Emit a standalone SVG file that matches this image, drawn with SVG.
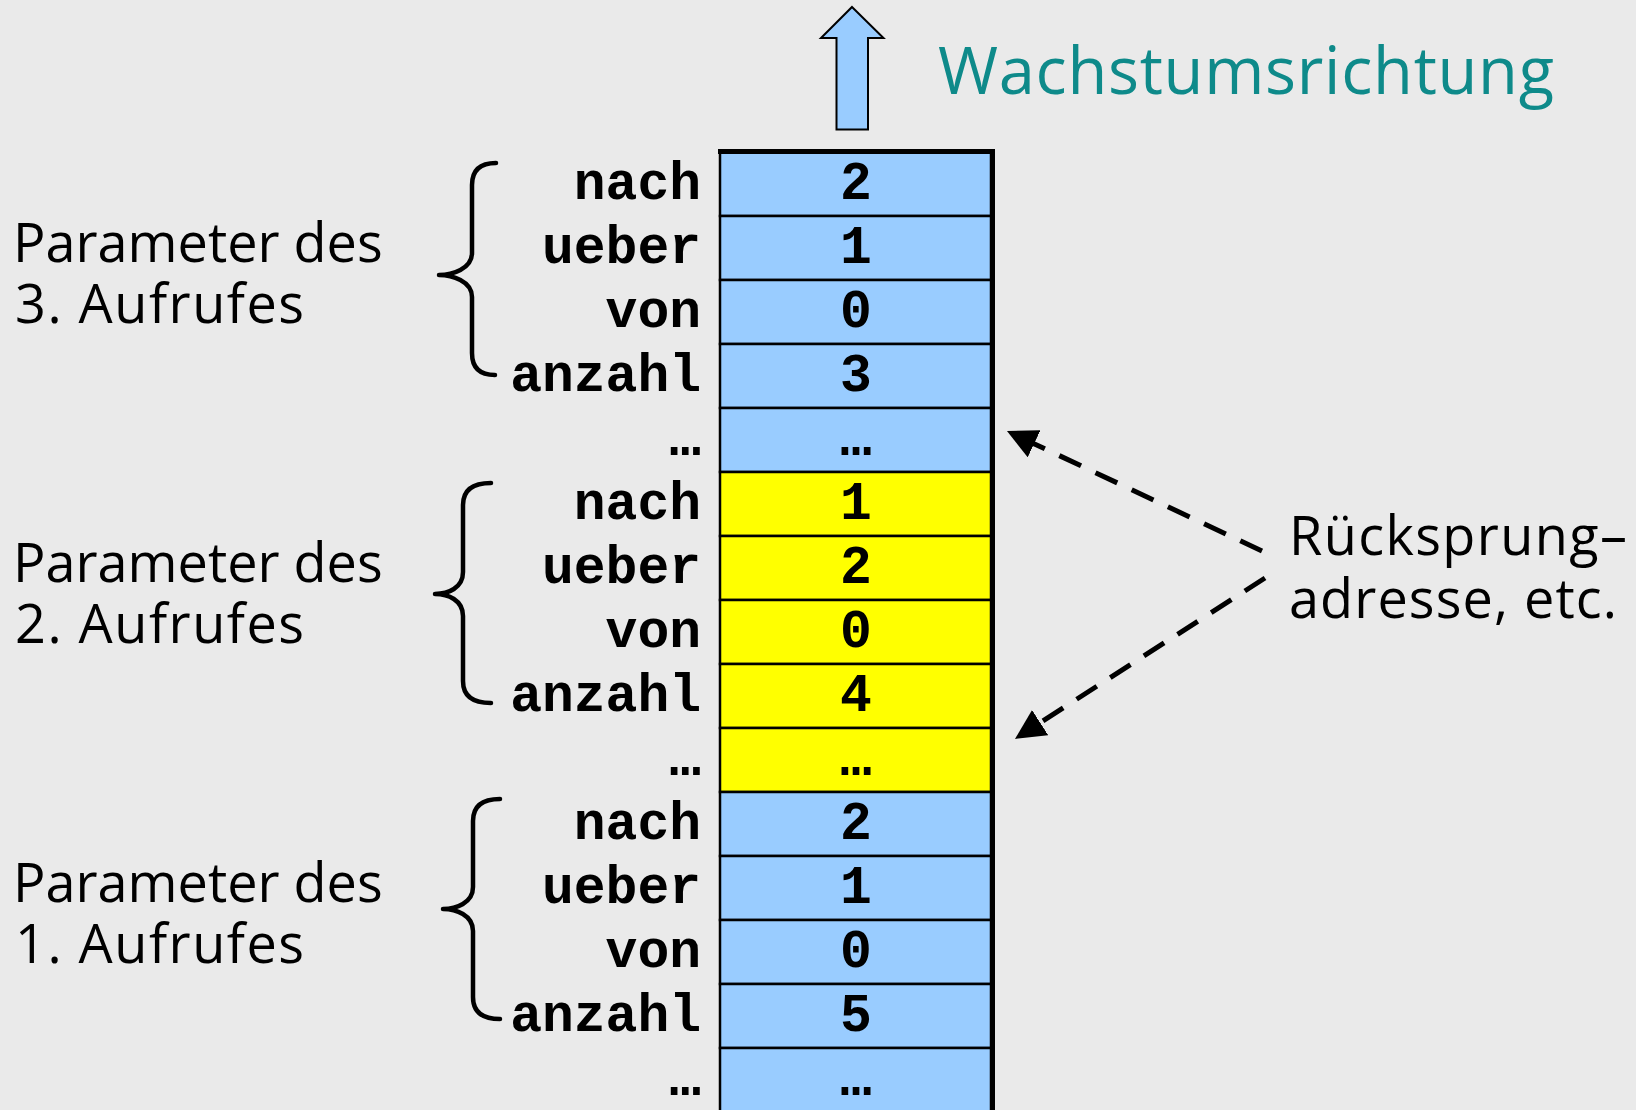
<svg xmlns="http://www.w3.org/2000/svg" width="1636" height="1110" viewBox="0 0 1636 1110">
  <style>
    .cell-b { fill: #99CCFF; stroke: #000; stroke-width: 2.5; }
    .cell-y { fill: #FFFF00; stroke: #000; stroke-width: 2.5; }
    .val { font-family: "Liberation Mono", "Courier New", monospace; font-weight: bold; font-size: 53px; fill: #000; text-anchor: middle; }
    .name { font-family: "Liberation Mono", "Courier New", monospace; font-weight: bold; font-size: 53px; fill: #000; text-anchor: end; }
    .lbl { font-family: "Open Sans", "Liberation Sans", sans-serif; font-size: 54px; fill: #000; }
    .title { font-family: "Open Sans", "Liberation Sans", sans-serif; font-size: 65px; fill: #0E8A8A; }
    .brace { fill: none; stroke: #000; stroke-width: 4.5; stroke-linecap: round; stroke-linejoin: round; }
    .dash { fill: none; stroke: #000; stroke-width: 5; stroke-dasharray: 24 16; }
  </style>
  <defs>
    <marker id="ah" markerUnits="userSpaceOnUse" viewBox="0 0 30 30" markerWidth="30" markerHeight="30" refX="2" refY="15" orient="auto">
      <path d="M0,0 L30,15 L0,30 z" fill="#000"/>
    </marker>
  </defs>

  <rect x="0" y="0" width="1636" height="1110" fill="#EAEAEA"/>

  <!-- growth direction arrow and caption -->
  <g id="growth">
    <polygon points="852,7 883.5,38 868,38 868,129.5 836.5,129.5 836.5,38 821,38" fill="#99CCFF" stroke="#000" stroke-width="2"/>
    <text class="title" x="938" y="94" textLength="616">Wachstumsrichtung</text>
  </g>

  <!-- stack cells, top to bottom -->
  <g id="frame3">
    <rect class="cell-b" x="720" y="152" width="271" height="64"/>
    <rect class="cell-b" x="720" y="216" width="271" height="64"/>
    <rect class="cell-b" x="720" y="280" width="271" height="64"/>
    <rect class="cell-b" x="720" y="344" width="271" height="64"/>
    <rect class="cell-b" x="720" y="408" width="271" height="64"/>
    <text class="val" x="856" y="199">2</text>
    <text class="val" x="856" y="263">1</text>
    <text class="val" x="856" y="327">0</text>
    <text class="val" x="856" y="391">3</text>
    <text class="val" x="856" y="455">…</text>
    <text class="name" x="701" y="199">nach</text>
    <text class="name" x="701" y="263">ueber</text>
    <text class="name" x="701" y="327">von</text>
    <text class="name" x="701" y="391">anzahl</text>
    <text class="name" x="701" y="455">…</text>
  </g>

  <g id="frame2">
    <rect class="cell-y" x="720" y="472" width="271" height="64"/>
    <rect class="cell-y" x="720" y="536" width="271" height="64"/>
    <rect class="cell-y" x="720" y="600" width="271" height="64"/>
    <rect class="cell-y" x="720" y="664" width="271" height="64"/>
    <rect class="cell-y" x="720" y="728" width="271" height="64"/>
    <text class="val" x="856" y="519">1</text>
    <text class="val" x="856" y="583">2</text>
    <text class="val" x="856" y="647">0</text>
    <text class="val" x="856" y="711">4</text>
    <text class="val" x="856" y="775">…</text>
    <text class="name" x="701" y="519">nach</text>
    <text class="name" x="701" y="583">ueber</text>
    <text class="name" x="701" y="647">von</text>
    <text class="name" x="701" y="711">anzahl</text>
    <text class="name" x="701" y="775">…</text>
  </g>

  <g id="frame1">
    <rect class="cell-b" x="720" y="792" width="271" height="64"/>
    <rect class="cell-b" x="720" y="856" width="271" height="64"/>
    <rect class="cell-b" x="720" y="920" width="271" height="64"/>
    <rect class="cell-b" x="720" y="984" width="271" height="64"/>
    <rect class="cell-b" x="720" y="1048" width="271" height="64"/>
    <text class="val" x="856" y="839">2</text>
    <text class="val" x="856" y="903">1</text>
    <text class="val" x="856" y="967">0</text>
    <text class="val" x="856" y="1031">5</text>
    <text class="val" x="856" y="1095">…</text>
    <text class="name" x="701" y="839">nach</text>
    <text class="name" x="701" y="903">ueber</text>
    <text class="name" x="701" y="967">von</text>
    <text class="name" x="701" y="1031">anzahl</text>
    <text class="name" x="701" y="1095">…</text>
  </g>

  <!-- heavy top and right edge of the stack -->
  <g id="stack-edge" fill="#000">
    <rect x="718" y="149" width="277" height="5"/>
    <rect x="990" y="149" width="5" height="965"/>
  </g>

  <!-- braces with call labels -->
  <g id="call3">
    <path class="brace" d="M496,163 Q472,163 472,185 L472,253 C472,269 452,275 439,275 C452,275 472,281 472,297 L472,353 Q472,375 495,375"/>
    <text class="lbl" x="13" y="262">Parameter des</text>
    <text class="lbl" x="15" y="323" textLength="289">3. Aufrufes</text>
  </g>
  <g id="call2">
    <path class="brace" d="M491,483 Q463,483 463,505 L463,572 C463,588 448,594 435,594 C448,594 463,600 463,616 L463,681 Q463,703 491,703"/>
    <text class="lbl" x="13" y="582">Parameter des</text>
    <text class="lbl" x="15" y="643" textLength="289">2. Aufrufes</text>
  </g>
  <g id="call1">
    <path class="brace" d="M500,799 Q473,799 473,821 L473,887 C473,903 456,909 443,909 C456,909 473,915 473,931 L473,997 Q473,1019 500,1019"/>
    <text class="lbl" x="13" y="902">Parameter des</text>
    <text class="lbl" x="15" y="963" textLength="289">1. Aufrufes</text>
  </g>

  <!-- return address note -->
  <g id="note">
    <text class="lbl" x="1289" y="555" textLength="338">Rücksprung–</text>
    <text class="lbl" x="1289" y="618" textLength="328">adresse, etc.</text>
  </g>

  <g id="connectors">
    <line class="dash" x1="1262" y1="551" x2="1032.3" y2="442.9" marker-end="url(#ah)"/>
    <line class="dash" x1="1265" y1="578" x2="1038.5" y2="723.8" marker-end="url(#ah)"/>
  </g>
</svg>
